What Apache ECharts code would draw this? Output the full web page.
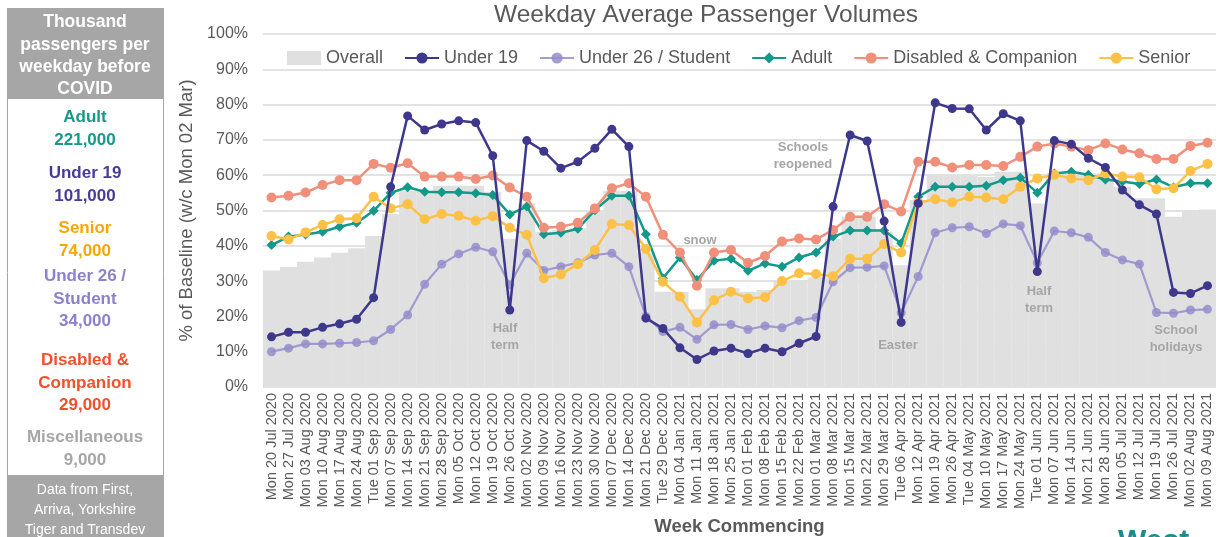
<!DOCTYPE html>
<html>
<head>
<meta charset="utf-8">
<script src="https://cdn.jsdelivr.net/npm/echarts@6/dist/echarts.min.js"></script>
<style>
html,body{margin:0;padding:0;background:#fff;}
#chart{width:1218px;height:537px;}
</style>
</head>
<body>
<div id="chart"></div>
<script>
const categories = [
'Mon 20 Jul 2020','Mon 27 Jul 2020','Mon 03 Aug 2020','Mon 10 Aug 2020','Mon 17 Aug 2020','Mon 24 Aug 2020','Tue 01 Sep 2020','Mon 07 Sep 2020','Mon 14 Sep 2020','Mon 21 Sep 2020',
'Mon 28 Sep 2020','Mon 05 Oct 2020','Mon 12 Oct 2020','Mon 19 Oct 2020','Mon 26 Oct 2020','Mon 02 Nov 2020','Mon 09 Nov 2020','Mon 16 Nov 2020','Mon 23 Nov 2020','Mon 30 Nov 2020',
'Mon 07 Dec 2020','Mon 14 Dec 2020','Mon 21 Dec 2020','Tue 29 Dec 2020','Mon 04 Jan 2021','Mon 11 Jan 2021','Mon 18 Jan 2021','Mon 25 Jan 2021','Mon 01 Feb 2021','Mon 08 Feb 2021',
'Mon 15 Feb 2021','Mon 22 Feb 2021','Mon 01 Mar 2021','Mon 08 Mar 2021','Mon 15 Mar 2021','Mon 22 Mar 2021','Mon 29 Mar 2021','Tue 06 Apr 2021','Mon 12 Apr 2021','Mon 19 Apr 2021',
'Mon 26 Apr 2021','Tue 04 May 2021','Mon 10 May 2021','Mon 17 May 2021','Mon 24 May 2021','Tue 01 Jun 2021','Mon 07 Jun 2021','Mon 14 Jun 2021','Mon 21 Jun 2021','Mon 28 Jun 2021',
'Mon 05 Jul 2021','Mon 12 Jul 2021','Mon 19 Jul 2021','Mon 26 Jul 2021','Mon 02 Aug 2021','Mon 09 Aug 2021'];

const overall = [33,34,35.5,36.7,38,39.3,42.8,49,55.5,55.5, 57,57,57,55.3,42,52,44,44.5,45,50,
 55.6,55.6,38,27,27,22,28,28,27,27.5, 30,30.3,31,42,48.2,48.2,44,34.5,53,60,
 60,60,59.5,61,61,52,60.5,60.5,60.5,60.5, 56.7,53.5,53.5,48.2,50,50.3];
const under19 = [14.2,15.5,15.5,16.9,17.9,19.2,25.3,56.7,76.8,72.8, 74.5,75.4,74.9,65.5,21.8,69.8,66.8,62.0,63.8,67.6,
 73.0,68.1,19.5,16.6,11.1,7.8,10.2,11.0,9.5,11.0, 10.0,12.4,14.3,51.1,71.4,69.7,47.0,18.3,52,80.5,
 78.9,78.8,72.8,77.4,75.4,32.7,69.8,68.8,64.8,62.2, 55.8,51.6,49.0,26.8,26.5,28.7];
const under26 = [10.0,11.0,12.2,12.2,12.4,12.6,13.1,16.3,20.4,29.1, 34.8,37.7,39.6,38.3,29,37.9,33.0,34.1,35.2,37.4,
 37.9,34.1,20,15.7,16.9,13.5,17.6,17.7,16.3,17.3, 16.8,18.8,19.7,29.8,33.8,33.9,34.3,21,31.3,43.7,
 45.1,45.4,43.5,46.2,45.7,35.2,44.2,43.7,42.4,38.1, 36.0,34.8,21.1,20.9,21.8,22.0];
const adult = [40.2,42.6,43.2,44.0,45.4,46.5,49.9,55.0,56.6,55.3, 55.2,55.2,54.9,54.4,48.9,51.1,43.3,43.7,44.8,50.1,
 54.2,54.2,43.3,30.8,36.7,30.3,35.8,36.3,32.9,35.0, 34.1,36.7,38.1,42.6,44.3,44.3,44.3,40.7,53.9,56.7,
 56.7,56.7,57.0,58.6,59.3,55.0,60.5,61.0,60.1,58.8, 58.2,57.5,58.8,56.6,57.7,57.7];
const disabled = [53.7,54.2,55.1,57.2,58.6,58.6,63.2,62.1,63.4,59.6, 59.6,59.6,58.9,59.9,56.5,53.9,45.1,45.4,46.5,50.6,
 56.3,57.7,53.9,43.1,38.1,28.7,38.1,38.8,35.2,37.1, 41.2,42.1,41.8,44.5,48.2,48.2,51.8,49.7,63.8,63.8,
 62.2,62.9,62.9,62.6,65.2,68.1,69.0,68.1,67.1,69.0, 67.3,66.2,64.6,64.6,68.3,69.2];
const senior = [42.8,41.8,43.8,45.9,47.5,47.8,53.9,50.6,51.8,47.5, 49.0,48.5,47.1,48.4,45.1,43.1,30.8,31.9,34.8,38.8,
 46.2,45.9,39.1,29.8,25.6,18.3,24.6,27.0,25.1,25.4, 30.0,32.2,32.0,31.4,36.3,36.3,40.5,38.1,52.2,53.2,
 52.3,53.9,53.7,53.2,56.7,59.1,60.1,59.1,58.6,60.5, 59.6,59.4,56.0,56.3,61.2,63.2];

const panelEntries = [
  {lines:['Adult','221,000'], color:'#16998A', y:117},
  {lines:['Under 19','101,000'], color:'#473C97', y:173},
  {lines:['Senior','74,000'], color:'#F7A800', y:228},
  {lines:['Under 26 /','Student','34,000'], color:'#8A82CC', y:276},
  {lines:['Disabled &','Companion','29,000'], color:'#F0502C', y:360},
  {lines:['Miscellaneous','9,000'], color:'#A6A6A6', y:437}
];
const annotations = [
  {text:'Half\nterm', x:505, y:337},
  {text:'snow', x:700, y:240},
  {text:'Schools\nreopened', x:803, y:156},
  {text:'Easter', x:898, y:345},
  {text:'Half\nterm', x:1039, y:300},
  {text:'School\nholidays', x:1176, y:339}
];

const FONT = '"Liberation Sans", Arial, sans-serif';
const graphics = [];
graphics.push({type:'rect', shape:{x:7.5,y:8.5,width:156,height:528}, style:{fill:'#fff', stroke:'#A6A6A6', lineWidth:1}});
graphics.push({type:'rect', shape:{x:7,y:8,width:157,height:91}, style:{fill:'#A6A6A6'}});
graphics.push({type:'rect', shape:{x:7,y:475,width:157,height:62}, style:{fill:'#A6A6A6'}});
graphics.push({type:'text', x:85, y:11.5, style:{text:'Thousand\npassengers per\nweekday before\nCOVID', fill:'#fff', font:'bold 17.5px '+FONT, align:'center', verticalAlign:'top', lineHeight:22.3}});
panelEntries.forEach(e=>{
  graphics.push({type:'text', x:85, y:e.y-10.5, style:{text:e.lines.join('\n'), fill:e.color, font:'bold 17px '+FONT, align:'center', verticalAlign:'top', lineHeight:22.5}});
});
graphics.push({type:'text', x:85, y:480, style:{text:'Data from First,\nArriva, Yorkshire\nTiger and Transdev', fill:'#fff', font:'14px '+FONT, align:'center', verticalAlign:'top', lineHeight:20}});
annotations.forEach(a=>{
  const n = a.text.split('\n').length;
  graphics.push({type:'text', x:a.x, y:a.y - n*17/2, z:50, style:{text:a.text, fill:'#A6A6A6', font:'bold 13px '+FONT, align:'center', verticalAlign:'top', lineHeight:17}});
});
graphics.push({type:'text', x:1118, y:527, style:{text:'West', fill:'#1A8C8C', font:'bold 30px '+FONT, align:'left', verticalAlign:'top'}});

const lineSeries = (name, data, color, symbol, size, width, z, opacity) => ({
  name, type:'line', data, symbol, symbolSize:size, z,
  lineStyle:{color, width, opacity: opacity||1},
  itemStyle:{color, opacity: opacity||1},
  emphasis:{disabled:true}, animation:false
});

const chart = echarts.init(document.getElementById('chart'), null, {renderer:'canvas'});
chart.setOption({
  animation:false,
  textStyle:{fontFamily:FONT},
  title:{text:'Weekday Average Passenger Volumes', left:701, top:-2, textAlign:'center',
    textStyle:{fontSize:24.5, fontWeight:'normal', color:'#595959', fontFamily:FONT}},
  legend:{left:282, top:44, itemGap:21, itemWidth:34, itemHeight:14,
    textStyle:{fontSize:18, color:'#595959', fontFamily:FONT},
    data:[{name:'Overall', icon:'rect', itemStyle:{color:'#E0E0E0'}}, 'Under 19','Under 26 / Student','Adult','Disabled & Companion','Senior']},
  grid:{left:263, right:2, top:34, bottom:150, containLabel:false, outerBoundsMode:'none'},
  xAxis:{type:'category', data:categories, boundaryGap:true,
    axisLine:{show:false}, axisTick:{show:false},
    axisLabel:{interval:0, rotate:90, fontSize:14.5, color:'#595959', margin:6, fontFamily:FONT},
    name:'Week Commencing', nameLocation:'middle', nameGap:127,
    nameTextStyle:{fontSize:18.5, fontWeight:'bold', color:'#595959', fontFamily:FONT}},
  yAxis:{type:'value', min:0, max:100, interval:10,
    axisLabel:{formatter:'{value}%', fontSize:16, color:'#595959', margin:15, fontFamily:FONT},
    splitLine:{lineStyle:{color:'#D9D9D9', width:1.5}},
    axisLine:{show:false}, axisTick:{show:false},
    name:'% of Baseline (w/c Mon 02 Mar)', nameLocation:'middle', nameGap:67, nameRotate:90,
    nameTextStyle:{fontSize:18.5, color:'#595959', fontFamily:FONT}},
  series:[
    {name:'Overall', type:'bar', data:overall, barCategoryGap:'0%', itemStyle:{color:'#E0E0E0'}, z:1, emphasis:{disabled:true}},
    lineSeries('Under 26 / Student', under26, '#948DCB', 'circle', 9, 2.2, 3, 0.85),
    lineSeries('Adult', adult, '#12998A', 'diamond', 10, 2.5, 4),
    lineSeries('Disabled & Companion', disabled, '#F0907A', 'circle', 10, 2.5, 5),
    lineSeries('Senior', senior, '#FCC146', 'circle', 10, 2.5, 6),
    lineSeries('Under 19', under19, '#3E388C', 'circle', 9, 2.5, 7)
  ],
  graphic:graphics
});
</script>
</body>
</html>
